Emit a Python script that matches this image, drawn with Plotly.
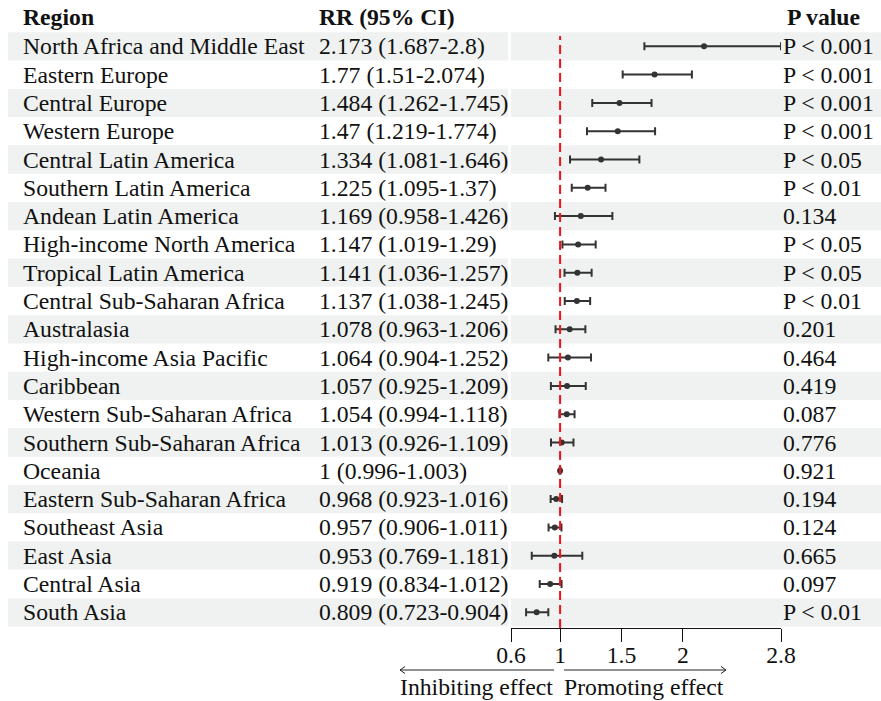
import plotly.graph_objects as go

# ---- data -------------------------------------------------------------
regions = [
    "North Africa and Middle East", "Eastern Europe", "Central Europe",
    "Western Europe", "Central Latin America", "Southern Latin America",
    "Andean Latin America", "High-income North America", "Tropical Latin America",
    "Central Sub-Saharan Africa", "Australasia", "High-income Asia Pacific",
    "Caribbean", "Western Sub-Saharan Africa", "Southern Sub-Saharan Africa",
    "Oceania", "Eastern Sub-Saharan Africa", "Southeast Asia", "East Asia",
    "Central Asia", "South Asia",
]
rr = [2.173, 1.77, 1.484, 1.47, 1.334, 1.225, 1.169, 1.147, 1.141, 1.137, 1.078,
      1.064, 1.057, 1.054, 1.013, 1, 0.968, 0.957, 0.953, 0.919, 0.809]
ci_low = [1.687, 1.51, 1.262, 1.219, 1.081, 1.095, 0.958, 1.019, 1.036, 1.038, 0.963,
          0.904, 0.925, 0.994, 0.926, 0.996, 0.923, 0.906, 0.769, 0.834, 0.723]
ci_high = [2.8, 2.074, 1.745, 1.774, 1.646, 1.37, 1.426, 1.29, 1.257, 1.245, 1.206,
           1.252, 1.209, 1.118, 1.109, 1.003, 1.016, 1.011, 1.181, 1.012, 0.904]
p_values = ["P < 0.001", "P < 0.001", "P < 0.001", "P < 0.001", "P < 0.05", "P < 0.01",
            "0.134", "P < 0.05", "P < 0.05", "P < 0.01", "0.201", "0.464", "0.419",
            "0.087", "0.776", "0.921", "0.194", "0.124", "0.665", "0.097", "P < 0.01"]
tick_vals = [0.6, 1, 1.5, 2, 2.8]
tick_text = ["0.6", "1", "1.5", "2", "2.8"]

# ---- layout helpers ---------------------------------------------------
W, H = 881, 701
FONT = "Liberation Serif"
FS = 23.7
n = len(regions)
ypos = [n - i for i in range(n)]          # first row at the top
ROW_PX, TOP_ROW_PX = 28.3, 46.3
y_top = n + TOP_ROW_PX / ROW_PX
y_bot = n - (H - TOP_ROW_PX) / ROW_PX


def px(x):
    return x / W


def y_at(pix):
    return n - (pix - TOP_ROW_PX) / ROW_PX


fig = go.Figure()

fig.add_trace(go.Scatter(
    x=rr, y=ypos, mode="markers",
    marker=dict(color="#333333", size=6),
    error_x=dict(type="data", symmetric=False,
                 array=[h - v for h, v in zip(ci_high, rr)],
                 arrayminus=[v - l for v, l in zip(rr, ci_low)],
                 color="#333333", thickness=2, width=4),
    cliponaxis=False, showlegend=False, hoverinfo="skip",
))

shapes = []
annotations = []
txt = dict(family=FONT, size=FS, color="#111111")
bold = dict(family=FONT, size=FS, color="#111111", weight="bold")

# striped row backgrounds (table part and plot part)
for i, y in enumerate(ypos):
    if i % 2 == 0:
        for x0, x1 in ((px(8), px(508)), (px(511), 1.0)):
            shapes.append(dict(type="rect", xref="paper", yref="y", x0=x0, x1=x1,
                               y0=y - 0.5, y1=y + 0.5, fillcolor="#EFF2F0",
                               line=dict(width=0), layer="below"))

# null-effect reference line
shapes.append(dict(type="line", xref="x", yref="y", x0=1, x1=1,
                   y0=y_at(628), y1=y_at(36),
                   line=dict(color="#F2121A", width=2, dash="9px,5px")))

# direction arrows below the axis
ya = y_at(670)
dy = 3.5 / ROW_PX
arrow_line = dict(color="#222222", width=1)
shapes.append(dict(type="line", xref="paper", yref="y", x0=px(400), x1=px(554),
                   y0=ya, y1=ya, line=arrow_line))
shapes.append(dict(type="path", xref="paper", yref="y",
                   path=f"M {px(405)} {ya + dy} L {px(400)} {ya} L {px(405)} {ya - dy}",
                   line=arrow_line))
shapes.append(dict(type="line", xref="paper", yref="y", x0=px(564), x1=px(726),
                   y0=ya, y1=ya, line=arrow_line))
shapes.append(dict(type="path", xref="paper", yref="y",
                   path=f"M {px(721)} {ya + dy} L {px(726)} {ya} L {px(721)} {ya - dy}",
                   line=arrow_line))


def fmt(v):
    return f"{v:g}"


for y, name, v, lo, hi, p in zip(ypos, regions, rr, ci_low, ci_high, p_values):
    annotations.append(dict(x=px(21), y=y, xref="paper", yref="y", text=name,
                            xanchor="left", yanchor="middle", showarrow=False, font=txt))
    annotations.append(dict(x=px(317), y=y, xref="paper", yref="y",
                            text=f"{fmt(v)} ({fmt(lo)}-{fmt(hi)})",
                            xanchor="left", yanchor="middle", showarrow=False, font=txt))
    annotations.append(dict(x=px(781), y=y, xref="paper", yref="y", text=p,
                            xanchor="left", yanchor="middle", showarrow=False, font=txt))

# column headers
for x, label in ((21, "Region"), (317, "RR (95% CI)"), (785, "P value")):
    annotations.append(dict(x=px(x), y=y_at(17), xref="paper", yref="y", text=label,
                            xanchor="left", yanchor="middle", showarrow=False, font=bold))

# captions under the arrows
annotations.append(dict(x=px(555), y=y_at(687), xref="paper", yref="y",
                        text="Inhibiting effect", xanchor="right", yanchor="middle",
                        showarrow=False, font=txt))
annotations.append(dict(x=px(562), y=y_at(687), xref="paper", yref="y",
                        text="Promoting effect", xanchor="left", yanchor="middle",
                        showarrow=False, font=txt))

fig.update_layout(
    width=W, height=H, margin=dict(l=0, r=0, t=0, b=0, pad=0, autoexpand=False),
    paper_bgcolor="white", plot_bgcolor="rgba(0,0,0,0)",
    xaxis=dict(domain=[px(511), px(781)], range=[0.6, 2.8], anchor="free",
               position=(H - 628) / H, showgrid=False, zeroline=False,
               automargin=False,
               showline=True, linecolor="#111111", linewidth=1,
               ticks="outside", ticklen=13, tickwidth=1, tickcolor="#111111",
               ticklabelstandoff=-7,
               tickvals=tick_vals, ticktext=tick_text, tickfont=txt),
    yaxis=dict(domain=[0, 1], range=[y_bot, y_top], visible=False, automargin=False),
    shapes=shapes, annotations=annotations,
)

fig.write_html("out.html")
